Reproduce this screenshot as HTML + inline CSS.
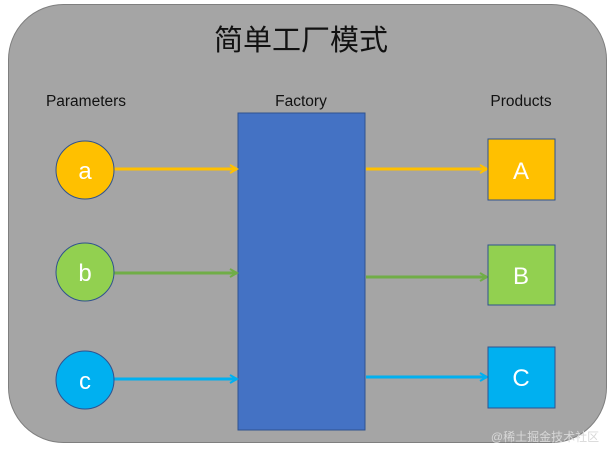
<!DOCTYPE html>
<html><head><style>body{margin:0;background:#fff}</style></head><body>
<svg width="613" height="449" xmlns="http://www.w3.org/2000/svg" style="display:block">
<defs>
<marker id="ma" markerWidth="10" markerHeight="10" refX="8" refY="5" orient="auto" markerUnits="userSpaceOnUse"><path d="M1,1 L8,5 L1,9" fill="none" stroke="#ffc000" stroke-width="2"/></marker>
<marker id="mb" markerWidth="10" markerHeight="10" refX="8" refY="5" orient="auto" markerUnits="userSpaceOnUse"><path d="M1,1 L8,5 L1,9" fill="none" stroke="#70ad47" stroke-width="2"/></marker>
<marker id="mc" markerWidth="10" markerHeight="10" refX="8" refY="5" orient="auto" markerUnits="userSpaceOnUse"><path d="M1,1 L8,5 L1,9" fill="none" stroke="#00b0f0" stroke-width="2"/></marker>
</defs>
<rect x="8.5" y="4.5" width="598" height="438" rx="55" fill="#a5a5a5" stroke="#7f7f7f"/>
<text x="301" y="50" text-anchor="middle" font-family="Liberation Sans, Noto Sans CJK SC, sans-serif" font-size="29" fill="#111">简单工厂模式</text>
<g font-family="Liberation Sans, sans-serif" font-size="15.5" fill="#111" text-anchor="middle">
<text x="86" y="106">Parameters</text><text x="301" y="106">Factory</text><text x="521" y="106">Products</text>
</g>
<rect x="238" y="113" width="127" height="317" fill="#4472c4" stroke="#2f528f"/>
<g stroke-width="3">
<line x1="114" y1="169" x2="237" y2="169" stroke="#ffc000" marker-end="url(#ma)"/>
<line x1="366" y1="169" x2="487" y2="169" stroke="#ffc000" marker-end="url(#ma)"/>
<line x1="114" y1="273" x2="237" y2="273" stroke="#70ad47" marker-end="url(#mb)"/>
<line x1="366" y1="277" x2="487" y2="277" stroke="#70ad47" marker-end="url(#mb)"/>
<line x1="114" y1="379" x2="237" y2="379" stroke="#00b0f0" marker-end="url(#mc)"/>
<line x1="366" y1="377" x2="487" y2="377" stroke="#00b0f0" marker-end="url(#mc)"/>
</g>
<circle cx="85" cy="170" r="29" fill="#ffc000" stroke="#2f528f"/>
<circle cx="85" cy="272" r="29" fill="#92d050" stroke="#2f528f"/>
<circle cx="85" cy="380" r="29" fill="#00b0f0" stroke="#2f528f"/>
<rect x="488" y="139" width="67" height="61" fill="#ffc000" stroke="#2f528f"/>
<rect x="488" y="245" width="67" height="60" fill="#92d050" stroke="#2f528f"/>
<rect x="488" y="347" width="67" height="61" fill="#00b0f0" stroke="#2f528f"/>
<g font-family="Liberation Sans, sans-serif" font-size="24" fill="#fff" text-anchor="middle">
<text x="85" y="179">a</text><text x="85" y="281">b</text><text x="85" y="389">c</text>
<text x="521" y="179">A</text><text x="521" y="284">B</text><text x="521" y="386">C</text>
</g>
<text x="545" y="441" text-anchor="middle" font-family="Liberation Sans, Noto Sans CJK SC, sans-serif" font-size="12" fill="#d8d8d8">@稀土掘金技术社区</text>
</svg>
</body></html>
